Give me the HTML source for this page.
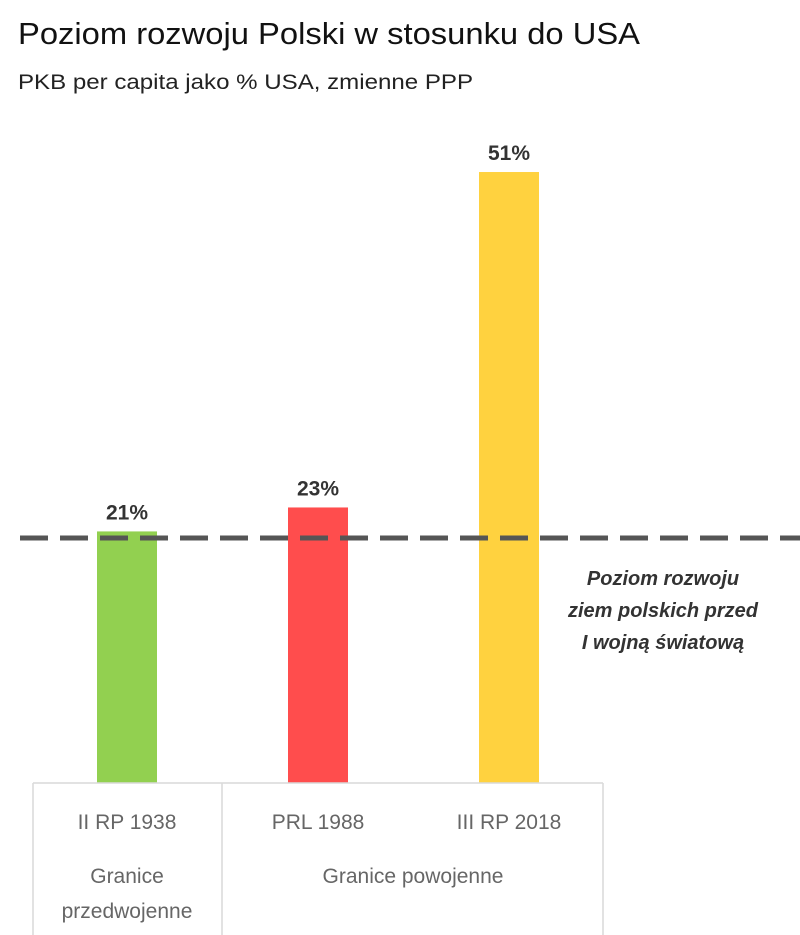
<!DOCTYPE html>
<html><head><meta charset="utf-8"><style>
body{margin:0;background:#fff;font-family:"Liberation Sans",sans-serif;}
#wrap{position:relative;width:800px;height:935px;overflow:hidden}
</style></head><body>
<div id="wrap">
<svg id="chart" width="800" height="935"></svg>
</div>
<script>
const categories=["II RP 1938","PRL 1988","III RP 2018"];
const values=[21,23,51];
const labels=["21%","23%","51%"];
const colors=["#92d050","#ff4d4d","#ffd23f"];
const refLevel=21.2;
const svg=document.getElementById('chart');
const NS='http://www.w3.org/2000/svg';
const base=783, pxPer=11.98;
function y(v){return base-v*pxPer;}
function cx(i){return 127+i*191;}
function el(t,a,txt){const e=document.createElementNS(NS,t);for(const k in a)e.setAttribute(k,a[k]);if(txt!==undefined)e.textContent=txt;svg.appendChild(e);return e;}
let t=el('text',{x:18,y:44,'font-size':31,fill:'#111','textLength':622,'lengthAdjust':'spacingAndGlyphs'},'Poziom rozwoju Polski w stosunku do USA');


t=el('text',{x:18,y:89,'font-size':21,fill:'#222','textLength':455,'lengthAdjust':'spacingAndGlyphs'},'PKB per capita jako % USA, zmienne PPP');


values.forEach((v,i)=>{
  const r=el('rect',{x:cx(i)-30,y:y(v),width:60,height:base-y(v),fill:colors[i]});
  
  
  const l=el('text',{x:cx(i),y:y(v)-12,'font-size':21,'font-weight':'bold',fill:'#333','text-anchor':'middle'},labels[i]);
  
  
  const c=el('text',{x:cx(i),y:829,'font-size':21,fill:'#666','text-anchor':'middle'},categories[i]);
  
  
});
const d=el('line',{x1:20,x2:800,y1:y(refLevel)+9,y2:y(refLevel)+9,stroke:'#555','stroke-width':5,'stroke-dasharray':'28 12'});


["Poziom rozwoju","ziem polskich przed","I wojną światową"].forEach((s,i)=>{
  const a=el('text',{x:663,y:585+i*32,'font-size':20,'font-weight':'bold','font-style':'italic',fill:'#333','text-anchor':'middle'},s);
  
  
});
const g='#d9d9d9';
[[33,783,603,783],[33,783,33,935],[222,783,222,935],[603,783,603,935]].forEach(p=>{
  const ln=el('line',{x1:p[0],y1:p[1],x2:p[2],y2:p[3],stroke:g,'stroke-width':1.5});
  
  
});
[["Granice",127,883],["przedwojenne",127,918],["Granice powojenne",413,883]].forEach(p=>{
  const a=el('text',{x:p[1],y:p[2],'font-size':21,fill:'#666','text-anchor':'middle'},p[0]);
  
  
});
</script>
</body></html>
